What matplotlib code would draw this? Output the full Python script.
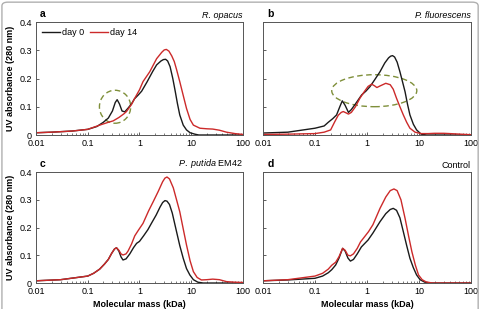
import matplotlib.pyplot as plt
from matplotlib.patches import Ellipse, FancyBboxPatch
from matplotlib.ticker import FixedLocator, LogLocator, NullFormatter

plt.rcParams['font.family'] = ['Liberation Sans', 'DejaVu Sans']
plt.rcParams['mathtext.fontset'] = 'custom'
plt.rcParams['mathtext.it'] = 'Liberation Sans:italic'
plt.rcParams['mathtext.rm'] = 'Liberation Sans'

# panel a - R. opacus
a_x0 = [0.01, 0.02, 0.05, 0.1, 0.15, 0.2, 0.25, 0.3, 0.34, 0.37, 0.41, 0.46, 0.52, 0.6, 0.7,
        0.8, 0.95, 1.1, 1.4, 1.8, 2.14, 2.6, 2.9, 3.2, 3.5, 3.9, 4.4, 4.9, 5.4, 6.0, 7.0, 8.1,
        9.5, 11.7, 14, 20, 50, 100]
a_y0 = [0.008, 0.01, 0.014, 0.02, 0.03, 0.045, 0.06, 0.085, 0.115, 0.125, 0.11, 0.085, 0.082,
        0.095, 0.11, 0.128, 0.142, 0.155, 0.188, 0.225, 0.248, 0.262, 0.267, 0.268, 0.262,
        0.242, 0.2, 0.155, 0.112, 0.071, 0.035, 0.018, 0.008, 0.003, 0, 0, 0, 0]
a_x14 = [0.01, 0.02, 0.05, 0.1, 0.17, 0.25, 0.31, 0.4, 0.5, 0.56, 0.7, 0.81, 1.0, 1.17, 1.58,
         2.14, 2.7, 3.0, 3.3, 3.7, 4.2, 4.7, 5.2, 6.0, 7.0, 8.1, 9.5, 11, 14.7, 20, 26, 35, 48,
         70, 100]
a_y14 = [0.008, 0.01, 0.014, 0.02, 0.035, 0.045, 0.05, 0.062, 0.075, 0.083, 0.108, 0.13, 0.16,
         0.189, 0.224, 0.27, 0.293, 0.301, 0.303, 0.297, 0.28, 0.26, 0.232, 0.189, 0.14, 0.094,
         0.055, 0.035, 0.024, 0.022, 0.021, 0.017, 0.01, 0.005, 0.002]

# panel b - P. fluorescens
b_x0 = [0.01, 0.03, 0.1, 0.15, 0.18, 0.22, 0.26, 0.3, 0.335, 0.38, 0.44, 0.5, 0.6, 0.79, 0.95,
        1.14, 1.4, 1.78, 2.2, 2.6, 2.85, 3.1, 3.4, 3.8, 4.3, 4.8, 5.4, 6.0, 6.7, 7.8, 9, 11, 14,
        30, 100]
b_y0 = [0.007, 0.01, 0.024, 0.032, 0.045, 0.058, 0.071, 0.1, 0.121, 0.105, 0.08, 0.09, 0.11,
        0.142, 0.155, 0.171, 0.195, 0.224, 0.255, 0.273, 0.279, 0.281, 0.276, 0.258, 0.224,
        0.19, 0.153, 0.11, 0.071, 0.038, 0.018, 0.003, 0, 0, 0]
b_x14 = [0.01, 0.03, 0.1, 0.15, 0.2, 0.24, 0.28, 0.32, 0.35, 0.4, 0.44, 0.5, 0.6, 0.73, 0.9,
         1.05, 1.23, 1.4, 1.55, 1.8, 2.3, 2.8, 3.2, 3.7, 4.3, 5.0, 5.8, 6.7, 8.4, 11, 15, 20,
         30, 50, 100]
b_y14 = [0.002, 0.003, 0.005, 0.01, 0.018, 0.047, 0.07, 0.08, 0.083, 0.078, 0.074, 0.08, 0.1,
         0.13, 0.155, 0.172, 0.18, 0.174, 0.168, 0.174, 0.183, 0.178, 0.162, 0.13, 0.1, 0.071,
         0.045, 0.024, 0.01, 0.005, 0.005, 0.006, 0.006, 0.004, 0.001]

# panel c - P. putida EM42
c_x0 = [0.01, 0.03, 0.1, 0.13, 0.17, 0.21, 0.25, 0.29, 0.33, 0.36, 0.4, 0.44, 0.48, 0.55, 0.65,
        0.77, 0.88, 1.0, 1.2, 1.45, 1.7, 2.1, 2.5, 2.8, 3.1, 3.4, 3.8, 4.3, 5.2, 6.0, 7.0, 8.1,
        9.4, 11, 13.4, 17, 30, 100]
c_y0 = [0.008, 0.012, 0.025, 0.035, 0.05, 0.068, 0.085, 0.107, 0.123, 0.127, 0.115, 0.094,
        0.083, 0.087, 0.105, 0.128, 0.143, 0.15, 0.17, 0.192, 0.215, 0.245, 0.274, 0.29, 0.297,
        0.295, 0.283, 0.252, 0.185, 0.135, 0.089, 0.052, 0.029, 0.012, 0.003, 0, 0, 0]
c_x14 = [0.01, 0.03, 0.1, 0.13, 0.17, 0.21, 0.25, 0.29, 0.33, 0.36, 0.4, 0.44, 0.48, 0.55, 0.6,
         0.7, 0.81, 0.95, 1.17, 1.5, 1.84, 2.3, 2.8, 3.1, 3.4, 3.8, 4.5, 5.2, 6.0, 7.0, 8.1, 9.5,
         11, 13, 15.7, 20, 26, 35, 48, 70, 100]
c_y14 = [0.008, 0.012, 0.025, 0.035, 0.05, 0.068, 0.085, 0.107, 0.123, 0.127, 0.118, 0.105,
         0.101, 0.105, 0.115, 0.14, 0.17, 0.19, 0.215, 0.26, 0.293, 0.33, 0.365, 0.378, 0.382,
         0.375, 0.343, 0.3, 0.257, 0.195, 0.137, 0.08, 0.041, 0.02, 0.011, 0.012, 0.014, 0.012,
         0.005, 0.003, 0.002]

# panel d - control
d_x0 = [0.01, 0.03, 0.1, 0.14, 0.18, 0.21, 0.25, 0.29, 0.34, 0.38, 0.43, 0.48, 0.55, 0.65, 0.78,
        0.91, 1.05, 1.3, 1.78, 2.3, 2.8, 3.2, 3.7, 4.3, 5.0, 5.8, 6.7, 7.8, 9, 10.5, 12.9, 17,
        30, 100]
d_y0 = [0.008, 0.011, 0.017, 0.025, 0.037, 0.048, 0.065, 0.09, 0.125, 0.115, 0.09, 0.079,
        0.085, 0.105, 0.13, 0.143, 0.155, 0.18, 0.221, 0.25, 0.265, 0.269, 0.262, 0.235, 0.185,
        0.135, 0.089, 0.055, 0.029, 0.012, 0.003, 0, 0, 0]
d_x14 = [0.01, 0.03, 0.1, 0.14, 0.18, 0.21, 0.25, 0.29, 0.34, 0.38, 0.43, 0.48, 0.55, 0.65,
         0.75, 0.85, 1.07, 1.3, 1.78, 2.3, 2.8, 3.3, 3.8, 4.5, 5.4, 6.3, 7.3, 8.5, 9.8, 11.5,
         13.7, 18, 30, 100]
d_y14 = [0.008, 0.012, 0.025, 0.035, 0.05, 0.064, 0.075, 0.095, 0.125, 0.118, 0.1, 0.098,
         0.105, 0.125, 0.148, 0.161, 0.185, 0.21, 0.269, 0.31, 0.333, 0.339, 0.333, 0.3, 0.233,
         0.17, 0.113, 0.065, 0.029, 0.012, 0.004, 0, 0, 0]

xticks = [0.01, 0.1, 1, 10, 100]
xticklabels = ['0.01', '0.1', '1', '10', '100']
yticks = [0, 0.1, 0.2, 0.3, 0.4]
yticklabels = ['0', '0.1', '0.2', '0.3', '0.4']

black = '#1a1a1a'
red = '#cc2a2a'
green = '#7f8f3a'

fig = plt.figure(figsize=(4.83, 3.09), dpi=100)
fig.patches.append(FancyBboxPatch((0.004, -0.05), 0.986, 1.043, transform=fig.transFigure,
                                  boxstyle='round,pad=0,rounding_size=0.012',
                                  fc='none', ec='#b0b0b0', lw=1.0))

panels = [
    ('a', [0.0745, 0.5631, 0.4286, 0.3657], a_x0, a_y0, a_x14, a_y14),
    ('b', [0.5445, 0.5631, 0.4306, 0.3657], b_x0, b_y0, b_x14, b_y14),
    ('c', [0.0745, 0.0841, 0.4286, 0.3592], c_x0, c_y0, c_x14, c_y14),
    ('d', [0.5445, 0.0841, 0.4306, 0.3592], d_x0, d_y0, d_x14, d_y14),
]

axes = {}
for letter, pos, x0, y0, x14, y14 in panels:
    ax = fig.add_axes(pos)
    ax.plot(x0, y0, color=black, lw=1.0, label='day 0')
    ax.plot(x14, y14, color=red, lw=1.0, label='day 14')
    ax.set_xscale('log')
    ax.set_xlim(0.01, 100)
    ax.set_ylim(0, 0.4)
    ax.xaxis.set_major_locator(FixedLocator(xticks))
    ax.xaxis.set_minor_locator(LogLocator(base=10, subs=range(2, 10), numticks=20))
    ax.xaxis.set_minor_formatter(NullFormatter())
    ax.set_xticklabels(xticklabels)
    ax.set_yticks(yticks)
    if letter in 'ac':
        ax.set_yticklabels(yticklabels)
        ax.set_ylabel('UV absorbance (280 nm)', fontsize=6.5, fontweight='bold', labelpad=3)
    else:
        ax.set_yticklabels([])
    if letter in 'cd':
        ax.set_xlabel('Molecular mass (kDa)', fontsize=6.5, fontweight='bold', labelpad=3)
    ax.tick_params(which='both', direction='in', labelsize=6.5, color='#444444', pad=3)
    ax.tick_params(which='major', length=2.5, width=0.6)
    ax.tick_params(which='minor', length=1.5, width=0.5)
    for s in ax.spines.values():
        s.set_color('#555555')
        s.set_linewidth(0.7)
    ax.text(0.02, 1.03, letter, transform=ax.transAxes, fontsize=7.5, fontweight='bold',
            ha='left', va='bottom')
    axes[letter] = ax

axes['a'].text(1.0, 1.02, 'R. opacus', transform=axes['a'].transAxes, fontsize=6.5,
               style='italic', ha='right', va='bottom')
axes['b'].text(1.0, 1.02, 'P. fluorescens', transform=axes['b'].transAxes, fontsize=6.5,
               style='italic', ha='right', va='bottom')
axes['c'].text(1.0, 1.02, r'$\it{P.\ putida}$ EM42', transform=axes['c'].transAxes,
               fontsize=6.5, ha='right', va='bottom')
axes['d'].text(1.0, 1.02, 'Control', transform=axes['d'].transAxes, fontsize=6.5,
               ha='right', va='bottom')

axes['a'].legend(loc='upper left', ncol=2, frameon=False, fontsize=6.5, handlelength=2.0,
                 handletextpad=0.2, columnspacing=0.6, borderaxespad=0.3)

axes['a'].add_patch(Ellipse((0.382, 0.25), 0.151, 0.292, transform=axes['a'].transAxes,
                            fc='none', ec=green, lw=1.0, ls=(0, (4, 2.5))))
axes['b'].add_patch(Ellipse((0.535, 0.392), 0.409, 0.283, transform=axes['b'].transAxes,
                            fc='none', ec=green, lw=1.0, ls=(0, (4, 2.5))))

fig.savefig('out.png', dpi=100)
